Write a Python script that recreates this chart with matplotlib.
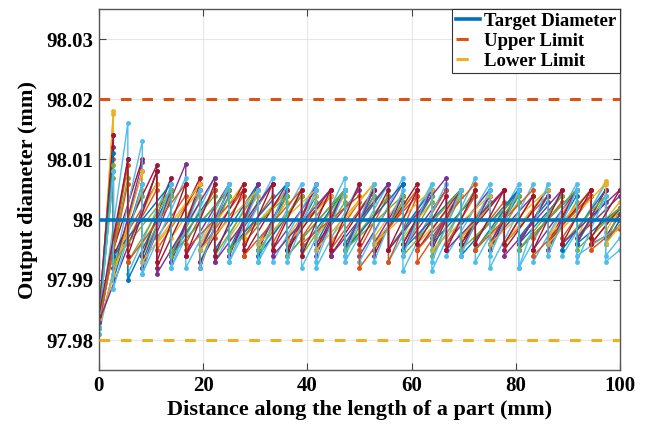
import numpy as np
import matplotlib
matplotlib.use('Agg')
import matplotlib.pyplot as plt
from matplotlib.lines import Line2D

plt.rcParams['font.family'] = ['Liberation Serif', 'DejaVu Serif']
plt.rcParams['font.weight'] = 'bold'

target_mm = 98.0
upper_mm = 98.02
lower_mm = 97.98

# positions along the part (mm) where a pass ends
grid_mm = [0, 2.78, 5.56, 8.33, 11.11, 13.89, 16.67, 19.44, 22.22, 25.0,
           27.78, 30.56, 33.33, 36.11, 38.89, 41.67, 44.44, 47.22, 50.0,
           52.78, 55.56, 58.33, 61.11, 63.89, 66.67, 69.44, 72.22, 75.0,
           77.78, 80.56, 83.33, 86.11, 88.89, 91.67, 94.44, 97.22, 100.0]

# deviation from target in micrometres: value at x=0 and at x=100 per run
start_um = [-17, -18, -19, -18, -17, -18, -16, -18, -17, -19, -18,
            -17, -19, -16, -17, -18, -18, -17, -18, -18, -16]
end_um = [-1, -1.5, 2, 4, 0, -3, 1, 0, 2, 3, 1,
          2, -1, 2, 2, -1, -1, 5, 2, -5, 5]

# each run: grid index of each drop, value just before it, value just after
teeth_01 = [1, 3, 5, 7, 9, 11, 13, 15, 17, 19, 21, 23, 25, 27, 29, 31, 33, 35]
peak_01 = [8, 6, 5, 5, 4, 5, 4, 4, 5, 4, 3, 4, 4, 3, 4, 3, 4, 3]
trough_01 = [-10, -7, -6, -5, -5, -4, -5, -4, -4, -5, -4, -3, -4, -4, -3, -4, -3, -3]

teeth_02 = [1, 4, 7, 10, 13, 16, 19, 22, 25, 28, 31, 34]
peak_02 = [10, 6, 6, 5, 5, 4, 5, 4, 4, 5, 4, 4]
trough_02 = [-6, -5, -5, -4, -3, -5, -4, -7, -3, -4, -3, -4]

teeth_03 = [1, 3, 5, 7, 9, 11, 13, 15, 17, 19, 21, 23, 25, 27, 29, 31, 33, 35]
peak_03 = [18, 5, 4, 4, 5, 4, 3, 4, 4, 3, 4, 3, 4, 4, 3, 4, 5, 6.5]
trough_03 = [-9, -4, -3, -4, -3, -4, -3, -3, -4, -3, -3, -4, -3, -3, -4, -3, -3, -2]

teeth_04 = [3, 6, 9, 12, 15, 18, 21, 24, 27, 30, 33]
peak_04 = [9.5, 9.3, 6, 6, 5, 5, 6, 5, 5, 4, 5]
trough_04 = [-8, -6, -5, -5, -4, -6, -5, -4, -4, -5, -3]

teeth_05 = [1, 3, 5, 7, 9, 11, 13, 15, 17, 19, 21, 23, 25, 27, 29, 31, 33, 35]
peak_05 = [7, 4, 4, 3, 4, 3, 4, 3, 3, 4, 3, 3, 4, 3, 3, 4, 3, 4]
trough_05 = [-7, -6, -6, -7, -5, -6, -5, -5, -6, -5, -5, -6, -5, -5, -4, -5, -4, -4]

teeth_06 = [2, 5, 8, 11, 14, 17, 20, 23, 26, 29, 32, 35]
peak_06 = [16, 7, 7, 6, 6, 7, 6, 6, 7, 6, 5, 6]
trough_06 = [-9, -8, -7, -7, -8, -7, -7, -8.5, -7, -8, -6, -6]

teeth_07 = [1, 3, 5, 7, 9, 11, 13, 15, 17, 19, 21, 23, 25, 27, 29, 31, 33, 35]
peak_07 = [14, 10, 7, 6, 6, 5, 5, 6, 5, 5, 4, 5, 5, 4, 5, 4, 5, 5]
trough_07 = [-5, -6, -7, -8, -6, -5, -6, -5, -5, -6, -4, -5, -4, -5, -4, -4, -4, -3]

teeth_08 = [2, 5, 8, 11, 14, 17, 20, 23, 26, 29, 32, 35]
peak_08 = [10, 5, 5, 6, 4, 5, 6, 5, 4, 5, 4, 5]
trough_08 = [-10, -6, -5, -6, -5, -4, -5, -4, -5, -4, -5, -4]

teeth_09 = [2, 4, 6, 8, 10, 12, 14, 16, 18, 20, 22, 24, 26, 28, 30, 32, 34]
peak_09 = [6, 5, 4, 5, 4, 4, 5, 4, 3, 4, 4, 5, 4, 3, 4, 3, 4]
trough_09 = [-4, -3, -4, -3, -3, -4, -3, -4, -5, -7, -3, -4, -3, -4, -3, -3, -4]

teeth_10 = [1, 4, 7, 10, 13, 16, 19, 22, 25, 28, 31, 34]
peak_10 = [17.5, 6, 5, 6, 5, 4, 6, 5, 4, 5, 5, 5]
trough_10 = [-8, -4, -4, -3, -4, -3, -4, -4, -3, -4, -3, -3]

teeth_11 = [1, 3, 5, 7, 9, 11, 13, 15, 17, 19, 21, 23, 25, 27, 29, 31, 33, 35]
peak_11 = [12, 8, 5, 5, 5, 6, 5, 6, 5, 5, 4, 5, 5, 4, 5, 4, 5, 5]
trough_11 = [-8, -8, -7, -5, -6, -5, -5, -6, -5, -4, -5, -4, -5, -4, -4, -5, -4, -3]

teeth_12 = [2, 5, 8, 11, 14, 17, 20, 23, 26, 29, 32, 35]
peak_12 = [7, 5, 4, 5, 4, 5, 4, 4, 5, 4, 4, 4]
trough_12 = [-7, -5, -6, -5, -6, -5, -5, -6, -5, -5, -4, -4]

teeth_13 = [3, 6, 9, 12, 15, 18, 21, 24, 27, 30, 33]
peak_13 = [13, 7, 6, 7, 6, 6, 7, 6, 6, 6, 6]
trough_13 = [-9, -8, -7, -7, -8, -7, -8.5, -6, -8, -7, -6]

teeth_14 = [1, 4, 7, 10, 13, 16, 19, 22, 25, 28, 31, 34]
peak_14 = [14, 9, 7, 6, 6, 5, 5, 6, 5, 5, 5, 5]
trough_14 = [-6, -8, -7, -6, -5, -6, -5, -5, -4, -5, -4, -4]

teeth_15 = [1, 5, 9, 13, 17, 21, 25, 29, 33]
peak_15 = [11, 6, 5, 6, 5, 6, 5, 5, 5]
trough_15 = [-6, -6, -5, -6, -5, -5, -6, -5, -4]

teeth_16 = [2, 6, 10, 14, 18, 22, 26, 30, 34]
peak_16 = [9, 6, 5, 5, 4, 5, 6, 5, 4]
trough_16 = [-7, -5, -6, -4, -8, -5, -5, -6, -5]

teeth_17 = [3, 7, 11, 15, 19, 23, 27, 31, 35]
peak_17 = [8, 6, 5, 5, 6, 5, 4, 5, 6]
trough_17 = [-7, -5, -4, -5, -4, -5, -4, -4, -4]

teeth_18 = [4, 8, 12, 16, 20, 24, 28, 32]
peak_18 = [8, 7, 6, 5, 6, 7, 5, 5]
trough_18 = [-9, -7, -6, -6, -5, -5, -6, -4]

teeth_19 = [1, 5, 9, 13, 17, 21, 25, 29, 33]
peak_19 = [9, 5, 5, 4, 5, 4, 5, 4, 5]
trough_19 = [-7, -6, -5, -6, -5, -6, -5, -5, -5]

teeth_20 = [1, 3, 5, 7, 9, 11, 13, 15, 17, 19, 21, 23, 25, 27, 29, 31, 33, 35]
peak_20 = [8, 6, 6, 5, 6, 5, 6, 5, 5, 6, 5, 6, 5, 5, 5, 6, 5, 4]
trough_20 = [-11.5, -9, -8, -8, -7, -7, -7, -7, -6, -7, -6, -7, -6, -6, -8, -6, -7, -7]

teeth_21 = [2, 4, 6, 8, 10, 12, 14, 16, 18, 20, 22, 24, 26, 28, 30, 32, 34]
peak_21 = [10, 8, 6, 6, 5, 6, 5, 5, 6, 5, 5, 4, 5, 5, 4, 5, 5]
trough_21 = [-6, -7, -6, -6, -5, -5, -6, -5, -4, -5, -4, -5, -4, -4, -5, -4, -3]

runs = [(teeth_01, peak_01, trough_01), (teeth_02, peak_02, trough_02),
        (teeth_03, peak_03, trough_03), (teeth_04, peak_04, trough_04),
        (teeth_05, peak_05, trough_05), (teeth_06, peak_06, trough_06),
        (teeth_07, peak_07, trough_07), (teeth_08, peak_08, trough_08),
        (teeth_09, peak_09, trough_09), (teeth_10, peak_10, trough_10),
        (teeth_11, peak_11, trough_11), (teeth_12, peak_12, trough_12),
        (teeth_13, peak_13, trough_13), (teeth_14, peak_14, trough_14),
        (teeth_15, peak_15, trough_15), (teeth_16, peak_16, trough_16),
        (teeth_17, peak_17, trough_17), (teeth_18, peak_18, trough_18),
        (teeth_19, peak_19, trough_19), (teeth_20, peak_20, trough_20),
        (teeth_21, peak_21, trough_21)]

colors = ['#0072BD', '#D95319', '#EDB120', '#7E2F8E', '#77AC30', '#4DBEEE', '#A2142F']

fig = plt.figure(figsize=(6.46, 4.25), dpi=100)
ax = fig.add_axes([0.153, 0.129, 0.807, 0.85])

for i, (teeth, peak, trough) in enumerate(runs):
    xs = [grid_mm[0]]
    ys = [start_um[i]]
    for t, p, q in zip(teeth, peak, trough):
        xs += [grid_mm[t], grid_mm[t]]
        ys += [p, q]
    xs.append(grid_mm[-1])
    ys.append(end_um[i])
    ax.plot(xs, target_mm + np.array(ys) / 1000.0, '-o', color=colors[i % 7],
            lw=1.0, ms=2.5, zorder=2)

ax.axhline(target_mm, color='#0072BD', lw=2.6, zorder=4)
ax.axhline(upper_mm, color='#D95319', lw=2.2, ls=(0, (3.5, 3.5)), zorder=4)
ax.axhline(lower_mm, color='#EDB120', lw=2.2, ls=(0, (3.5, 3.5)), zorder=4)

ax.set_xlim(0, 100)
ax.set_ylim(97.975, 98.035)
ax.set_xticks([0, 20, 40, 60, 80, 100])
ax.set_yticks([97.98, 97.99, 98.0, 98.01, 98.02, 98.03])
ax.set_yticklabels(['97.98', '97.99', '98', '98.01', '98.02', '98.03'])
ax.tick_params(direction='in', top=True, right=True, labelsize=15, length=5,
               color='#444444', pad=4)
ax.grid(True, color='#e6e6e6', lw=0.8, zorder=0)
ax.set_axisbelow(True)
for s in ax.spines.values():
    s.set_color('#555555')
    s.set_linewidth(1.0)

ax.set_xlabel('Distance along the length of a part (mm)', fontsize=16,
              fontweight='bold', labelpad=3)
ax.set_ylabel('Output diameter (mm)', fontsize=16, fontweight='bold', labelpad=6)

# legend proxies: the dashed ones show one short dash like the original
handles = [Line2D([], [], color='#0072BD', lw=2.6),
           Line2D([], [], color='#D95319', lw=2.2, ls=(0, (4, 8))),
           Line2D([], [], color='#EDB120', lw=2.2, ls=(0, (4, 8)))]
labels = ['Target Diameter', 'Upper Limit', 'Lower Limit']
leg = ax.legend(handles, labels, loc='upper right', fontsize=13.5, frameon=True,
                fancybox=False, edgecolor='#333333', framealpha=1,
                borderaxespad=0, handlelength=1.3, handletextpad=0.2,
                labelspacing=0.15, borderpad=0.2)
leg.get_frame().set_linewidth(0.8)

plt.savefig('out.png', dpi=100)
